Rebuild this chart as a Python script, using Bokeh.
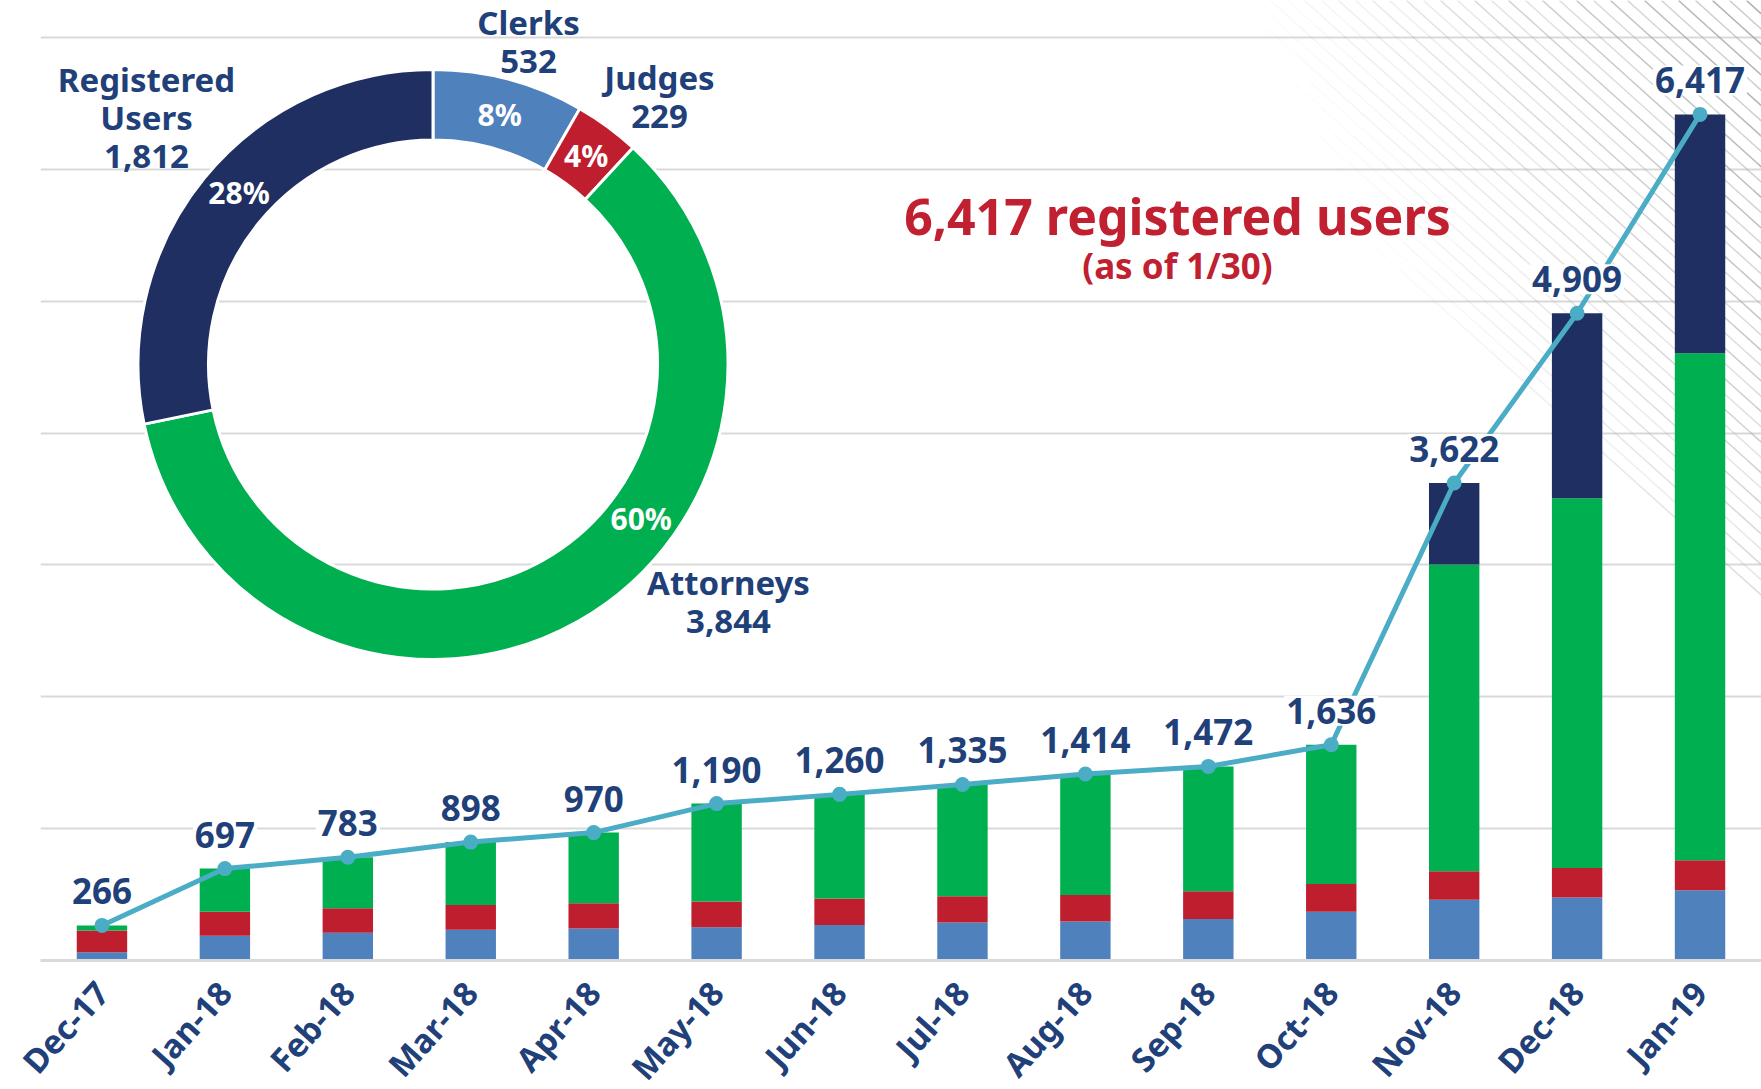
import math
from bokeh.plotting import figure
from bokeh.models import Range1d, FixedTicker, ColumnDataSource
from bokeh.embed import file_html
from bokeh.resources import INLINE
from bokeh.core.properties import value

# ---------------- data ----------------
months = ["Dec-17", "Jan-18", "Feb-18", "Mar-18", "Apr-18", "May-18", "Jun-18",
          "Jul-18", "Aug-18", "Sep-18", "Oct-18", "Nov-18", "Dec-18", "Jan-19"]
clerks = [62, 187, 210, 233, 243, 252, 270, 288, 295, 315, 370, 460, 477, 532]
judges = [166, 182, 187, 187, 192, 196, 200, 199, 202, 210, 211, 217, 225, 229]
attorneys = [38, 328, 386, 478, 535, 742, 790, 848, 917, 947, 1055, 2327, 2804, 3844]
registered = [0, 0, 0, 0, 0, 0, 0, 0, 0, 0, 0, 618, 1403, 1812]
totals = [266, 697, 783, 898, 970, 1190, 1260, 1335, 1414, 1472, 1636, 3622, 4909, 6417]

donut_names = ["Clerks", "Judges", "Attorneys", "Registered\nUsers"]
donut_values = [532, 229, 3844, 1812]
as_of = "(as of 1/30)"

# ---------------- styles ----------------
C_CLERK = "#4F81BD"
C_JUDGE = "#BE1E2D"
C_ATTY = "#00B050"
C_REG = "#1F2F62"
C_LINE = "#4BACC6"
C_TEXT = "#1F4078"
C_TITLE = "#C0202F"
C_GRID = "#D9D9D9"
FONT = value("Noto Sans")

FW, FH = 1721, 960
p = figure(frame_width=FW, frame_height=FH, x_range=Range1d(-0.5, 13.5),
           y_range=Range1d(0, 7281), output_backend="svg", toolbar_location=None,
           min_border_left=40, min_border_right=0, min_border_top=0, min_border_bottom=129)
p.extra_x_ranges = {"px": Range1d(0, FW)}
p.extra_y_ranges = {"px": Range1d(0, FH)}
p.outline_line_color = None
p.background_fill_color = "white"
p.border_fill_color = "white"
p.xgrid.visible = False
p.yaxis.visible = False
p.ygrid.ticker = FixedTicker(ticks=[1000 * k for k in range(1, 8)])
p.ygrid.grid_line_color = C_GRID
p.ygrid.grid_line_width = 2

# decorative diagonal hatch (top-right corner)
hx0, hy0, hx1, hy1, ha = [], [], [], [], []
for k, xt in enumerate(range(1100, 1800, 17)):
    step = 30
    for s in range(0, 900, step):
        sx0, sy0 = xt + s, 0.9 * s
        sx1, sy1 = xt + s + step, 0.9 * (s + step)
        mx, my = (sx0 + sx1) / 2, (sy0 + sy1) / 2
        if mx > 1775:
            break
        d = (1761 - mx) + 0.5 * my
        a = 0.95 * max(0.0, 1 - d / 520) * (1.0 if k % 2 == 0 else 0.65)
        if a <= 0.01:
            continue
        hx0.append(sx0 - 40); hy0.append(960 - sy0)
        hx1.append(sx1 - 40); hy1.append(960 - sy1)
        ha.append(min(a, 0.9))
p.segment(x0=hx0, y0=hy0, x1=hx1, y1=hy1, line_color="#A8A8A8", line_alpha=ha,
          line_width=1.6, x_range_name="px", y_range_name="px")

# stacked bars
x = list(range(len(months)))
src = ColumnDataSource(dict(x=x, clerks=clerks, judges=judges, attorneys=attorneys,
                            registered=registered, total=totals,
                            label=[f"{t:,}" for t in totals]))
p.vbar_stack(["clerks", "judges", "attorneys", "registered"], x="x", width=0.41,
             color=[C_CLERK, C_JUDGE, C_ATTY, C_REG], line_color=None, source=src)

# total line
p.line("x", "total", source=src, line_color=C_LINE, line_width=5)
p.scatter("x", "total", source=src, size=15, fill_color=C_LINE, line_color=None)
p.text("x", "total", text="label", source=src, text_align="center",
       text_baseline="alphabetic", y_offset=-34, text_font=FONT,
       text_font_style="bold", text_font_size="35px", text_color=C_TEXT,
       background_fill_color="white", padding=2)

# donut (positioned in frame pixels)
cx, cy, r_in, r_out = 392.5, 596, 224.5, 295
tot = sum(donut_values)
starts, ends, mids = [], [], []
cum = 0
for v in donut_values:
    a0 = math.pi / 2 - 2 * math.pi * (cum + v) / tot
    a1 = math.pi / 2 - 2 * math.pi * cum / tot
    starts.append(a0); ends.append(a1); mids.append((a0 + a1) / 2)
    cum += v
p.annular_wedge(x=[cx] * 4, y=[cy] * 4, inner_radius=r_in, outer_radius=r_out,
                inner_radius_units="screen", outer_radius_units="screen",
                start_angle=starts, end_angle=ends,
                fill_color=[C_CLERK, C_JUDGE, C_ATTY, C_REG], line_color="white",
                line_width=3, x_range_name="px", y_range_name="px")
pct_angles = list(mids)
pct_angles[2] = math.radians(-36.5)
pct_angles[3] = math.radians(138.5)
r_lab = 259
p.text(x=[cx + r_lab * math.cos(a) for a in pct_angles],
       y=[cy + r_lab * math.sin(a) for a in pct_angles],
       text=[f"{round(100 * v / tot)}%" for v in donut_values],
       text_align="center", text_baseline="middle", text_font=FONT,
       text_font_style="bold", text_font_size="30px", text_color="white",
       x_range_name="px", y_range_name="px")

# donut category labels
lab_x = [488, 619, 688, 106]
lab_y = [919, 864, 359, 843]
p.text(x=lab_x, y=lab_y, text=[f"{n}\n{v:,}" for n, v in zip(donut_names, donut_values)],
       text_align="center", text_baseline="middle", text_font=FONT,
       text_font_style="bold", text_font_size="33px", text_color=C_TEXT,
       text_line_height=0.85, x_range_name="px", y_range_name="px")

# headline
p.text(x=[1137], y=[745], text=[f"{totals[-1]:,} registered users"], text_align="center",
       text_baseline="middle", text_font=FONT, text_font_style="bold",
       text_font_size="50px", text_color=C_TITLE, x_range_name="px", y_range_name="px")
p.text(x=[1137], y=[695], text=[as_of], text_align="center",
       text_baseline="middle", text_font=FONT, text_font_style="bold",
       text_font_size="35px", text_color=C_TITLE, x_range_name="px", y_range_name="px")

# x axis
p.xaxis.ticker = FixedTicker(ticks=x)
p.xaxis.major_label_overrides = {i: m for i, m in enumerate(months)}
p.xaxis.major_label_orientation = math.radians(48)
p.xaxis.major_label_text_font = "Noto Sans"
p.xaxis.major_label_text_font_style = "bold"
p.xaxis.major_label_text_font_size = "33px"
p.xaxis.major_label_text_color = C_TEXT
p.xaxis.major_label_standoff = 26
p.xaxis.major_tick_line_color = None
p.xaxis.minor_tick_line_color = None
p.xaxis.major_tick_out = 0
p.xaxis.axis_line_color = C_GRID
p.xaxis.axis_line_width = 3

open("out.html", "w").write(file_html(p, INLINE))
